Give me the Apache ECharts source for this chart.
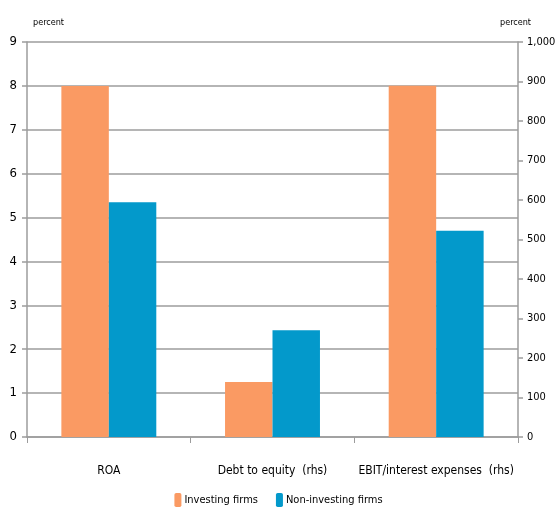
<!DOCTYPE html>
<html>
<head>
<meta charset="utf-8">
<script src="https://cdn.jsdelivr.net/npm/echarts@6/dist/echarts.min.js"></script>
<style>
  html, body { margin: 0; padding: 0; background: #fff; }
  #chart { width: 557px; height: 508px; }
</style>
</head>
<body>
<div id="chart"></div>
<script>
// categories on the x axis
const categories = ['ROA', 'Debt to equity  (rhs)', 'EBIT/interest expenses  (rhs)']
// ROA is read on the left axis, the other two on the right axis
const investingLhs = [8.0, '-', '-']
const investingRhs = ['-', 139, 889]
const nonInvestingLhs = [5.35, '-', '-']
const nonInvestingRhs = ['-', 270, 522]

const font = '"DejaVu Sans Condensed", "Liberation Sans Narrow", sans-serif'
const gray = '#9c9c9c'
const orange = '#fa9a63'
const blue = '#0399cb'

const chart = echarts.init(document.getElementById('chart'))

const valueAxisBase = {
  type: 'value',
  min: 0,
  axisLine: { show: true, lineStyle: { color: gray, width: 1.5 } },
  axisTick: { show: true, length: 5, lineStyle: { color: gray, width: 1.5 } },
  axisLabel: { color: '#000', fontFamily: font, fontSize: 13 },
  nameTextStyle: { color: '#000', fontFamily: font, fontSize: 9 }
}

const option = {
  animation: false,
  grid: { left: 27, right: 39, top: 42, bottom: 71, containLabel: false, outerBoundsMode: 'none' },
  legend: {
    top: 488,
    left: 'center',
    itemWidth: 7,
    itemHeight: 14,
    itemGap: 18,
    textStyle: { color: '#000', fontFamily: font, fontSize: 11, padding: [0, 0, 0, -2] },
    data: ['Investing firms', 'Non-investing firms']
  },
  xAxis: {
    type: 'category',
    data: categories,
    axisLine: { lineStyle: { color: gray, width: 1.5 } },
    axisTick: { show: true, length: 6, interval: 0, lineStyle: { color: gray, width: 1 } },
    axisLabel: { color: '#000', fontFamily: font, fontSize: 12, margin: 28, interval: 0 }
  },
  yAxis: [
    Object.assign({}, valueAxisBase, {
      max: 9,
      interval: 1,
      position: 'left',
      name: 'percent',
      nameGap: 15,
      nameTextStyle: Object.assign({}, valueAxisBase.nameTextStyle, { align: 'left', padding: [0, 0, 0, 6] }),
      axisLabel: Object.assign({}, valueAxisBase.axisLabel, { margin: 10 }),
      splitLine: { show: true, lineStyle: { color: gray, width: 1.5 } }
    }),
    Object.assign({}, valueAxisBase, {
      max: 1000,
      interval: 100,
      position: 'right',
      name: 'percent',
      nameGap: 15,
      nameTextStyle: Object.assign({}, valueAxisBase.nameTextStyle, { align: 'left', padding: [0, 0, 0, -18] }),
      axisLabel: Object.assign({}, valueAxisBase.axisLabel, {
        margin: 9,
        fontSize: 11,
        formatter: v => v.toLocaleString('en-US')
      }),
      splitLine: { show: false }
    })
  ],
  series: [
    { name: 'Investing firms', type: 'bar', stack: 'inv', yAxisIndex: 0, data: investingLhs,
      itemStyle: { color: orange }, barCategoryGap: '42%', barGap: '0%' },
    { name: 'Investing firms', type: 'bar', stack: 'inv', yAxisIndex: 1, data: investingRhs,
      itemStyle: { color: orange }, barCategoryGap: '42%', barGap: '0%' },
    { name: 'Non-investing firms', type: 'bar', stack: 'non', yAxisIndex: 0, data: nonInvestingLhs,
      itemStyle: { color: blue }, barCategoryGap: '42%', barGap: '0%' },
    { name: 'Non-investing firms', type: 'bar', stack: 'non', yAxisIndex: 1, data: nonInvestingRhs,
      itemStyle: { color: blue }, barCategoryGap: '42%', barGap: '0%' }
  ]
}

chart.setOption(option)
</script>
</body>
</html>
